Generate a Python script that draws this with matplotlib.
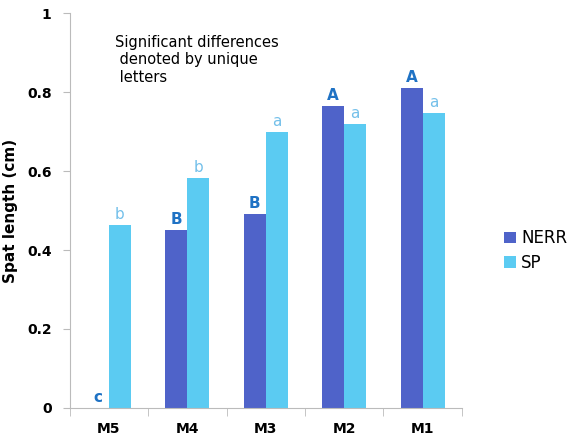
import numpy as np
import matplotlib.pyplot as plt

sites = ["M5", "M4", "M3", "M2", "M1"]
nerr = [0.0, 0.45, 0.49, 0.765, 0.81]
sp = [0.463, 0.582, 0.699, 0.719, 0.747]
nerr_letters = ["c", "B", "B", "A", "A"]
sp_letters = ["b", "b", "a", "a", "a"]

c_nerr = "#4f63c9"
c_sp = "#5bcbf2"

fig = plt.figure(figsize=(5.86, 4.4), dpi=100)
ax = fig.add_axes([0.119, 0.073, 0.669, 0.897])

x = np.arange(len(sites))
w = 0.28
b1 = ax.bar(x - w / 2, nerr, w, color=c_nerr, label="NERR")
b2 = ax.bar(x + w / 2, sp, w, color=c_sp, label="SP")

for xi, v, t in zip(x, nerr, nerr_letters):
    ax.text(xi - w / 2, v + 0.008, t, ha="center", va="bottom",
            fontsize=11, fontweight="bold", color="#1f72c4")
for xi, v, t in zip(x, sp, sp_letters):
    ax.text(xi + w / 2, v + 0.008, t, ha="center", va="bottom",
            fontsize=11, color="#74c0ea")

ax.set_xlim(-0.5, 4.5)
ax.set_ylim(0, 1)
ax.set_yticks([0, 0.2, 0.4, 0.6, 0.8, 1])
ax.set_yticklabels(["0", "0.2", "0.4", "0.6", "0.8", "1"])
ax.set_xticks(x)
ax.set_xticklabels(sites)
ax.set_xticks(np.arange(-0.5, 5, 1), minor=True)
ax.tick_params(axis="x", which="major", length=0, pad=10)
ax.tick_params(axis="x", which="minor", length=6, color="#bbbbbb")
ax.tick_params(axis="y", length=5, color="#bbbbbb", pad=8)
for lab in ax.get_xticklabels() + ax.get_yticklabels():
    lab.set_fontweight("bold")
    lab.set_fontsize(10)

for s in ["top", "right"]:
    ax.spines[s].set_visible(False)
for s in ["left", "bottom"]:
    ax.spines[s].set_color("#bbbbbb")

ax.set_ylabel("Spat length (cm)", fontsize=11, fontweight="bold")
ax.yaxis.set_label_coords(-0.133, 0.5)

ax.text(0.115, 0.945, "Significant differences\n denoted by unique\n letters",
        transform=ax.transAxes, ha="left", va="top", fontsize=10.5,
        linespacing=1.2)

fig.legend(handles=[b1, b2], loc="center left", bbox_to_anchor=(0.835, 0.43),
           frameon=False, fontsize=12, handlelength=0.7, handleheight=0.7,
           handletextpad=0.3, labelspacing=0.4)

fig.savefig("out.png", dpi=100)
